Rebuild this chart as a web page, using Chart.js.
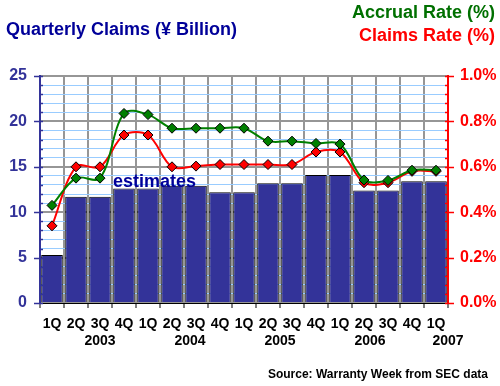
<!DOCTYPE html>
<html><head><meta charset="utf-8">
<style>html,body{margin:0;padding:0;background:#fff;}canvas{display:block;}</style>
<script src="https://cdn.jsdelivr.net/npm/chart.js@4"></script>
</head><body>
<canvas id="c" width="500" height="386"></canvas>
<script>
const quarters = ['1Q','2Q','3Q','4Q','1Q','2Q','3Q','4Q','1Q','2Q','3Q','4Q','1Q','2Q','3Q','4Q','1Q'];
const years = ['2003','2004','2005','2006','2007'];
const yearAnchors = [2, 5.75, 9.5, 13.25, 16.5];
const claims = [5.3, 11.7, 11.7, 12.6, 12.6, 12.9, 12.9, 12.2, 12.2, 13.2, 13.2, 14.1, 14.1, 12.4, 12.4, 13.4, 13.4];
const accrualRate = [0.43, 0.55, 0.55, 0.835, 0.83, 0.77, 0.77, 0.77, 0.77, 0.713, 0.713, 0.703, 0.70, 0.542, 0.54, 0.585, 0.585];
const claimsRate = [0.34, 0.60, 0.60, 0.74, 0.74, 0.60, 0.603, 0.61, 0.61, 0.61, 0.61, 0.665, 0.665, 0.53, 0.53, 0.58, 0.58];
const leftMax = 25, leftMajor = 5;
const rightMax = 1.0, rightMajor = 0.2;

const FONT = 'Liberation Sans, Arial, sans-serif';

const decor = {
  id: 'decor',
  afterDatasetsDraw(chart) {
    const ctx = chart.ctx, y = chart.scales.y, y2 = chart.scales.y2;
    ctx.save();
    ctx.lineWidth = 1.5;
    ctx.strokeStyle = '#333399';
    for (let v = 0; v <= leftMax; v++) {
      const py = Math.round(y.getPixelForValue(v)) + 0.5;
      const major = v % leftMajor === 0;
      ctx.beginPath();
      ctx.moveTo(y.right - (major ? 6 : 0), py);
      ctx.lineTo(y.right + 3, py);
      ctx.stroke();
    }
    ctx.strokeStyle = '#ff0000';
    for (let k = 0; k <= 25; k++) {
      const py = Math.round(y2.getPixelForValue(k * rightMax / 25)) + 0.5;
      const major = k % 5 === 0;
      ctx.beginPath();
      ctx.moveTo(y2.left - 3, py);
      ctx.lineTo(y2.left + (major ? 6 : 0), py);
      ctx.stroke();
    }
    ctx.restore();
  },
  afterDraw(chart) {
    const ctx = chart.ctx, x = chart.scales.x, y = chart.scales.y;
    ctx.save();
    const txt = (s, px, py, color, size, align, base) => {
      ctx.font = 'bold ' + size + 'px ' + FONT;
      ctx.fillStyle = color;
      ctx.textAlign = align;
      ctx.textBaseline = base || 'alphabetic';
      ctx.fillText(s, px, py);
    };
    txt('Quarterly Claims (\u00a5 Billion)', 6, 35, '#000099', 18, 'left');
    txt('Accrual Rate (%)', 495, 18, '#007000', 18, 'right');
    txt('Claims Rate (%)', 495, 41, '#ff0000', 18, 'right');
    // estimates annotation anchored to data coordinates
    const step = x.getPixelForValue(1) - x.getPixelForValue(0);
    const ex = x.getPixelForValue(0) + 4.27 * step;
    txt('estimates', ex, y.getPixelForValue(12.8), '#000099', 18, 'center');
    years.forEach((yr, i) => {
      const px = x.getPixelForValue(0) + yearAnchors[i] * step;
      txt(yr, px, 341, '#000', 14, 'center', 'middle');
    });
    txt('Source: Warranty Week from SEC data', 488, 378, '#000', 12, 'right');
    ctx.restore();
  }
};

new Chart(document.getElementById('c'), {
  type: 'bar',
  data: {
    labels: quarters,
    datasets: [
      { type: 'line', label: 'Accrual Rate (%)', data: accrualRate, yAxisID: 'y2',
        borderColor: '#008000', borderWidth: 2, backgroundColor: '#008000',
        pointStyle: 'rectRot', pointRadius: 5, pointBorderColor: '#000', pointBorderWidth: 1,
        pointBackgroundColor: '#008000', tension: 0.35, order: 0 },
      { type: 'line', label: 'Claims Rate (%)', data: claimsRate, yAxisID: 'y2',
        borderColor: '#ff0000', borderWidth: 2, backgroundColor: '#ff0000',
        pointStyle: 'rectRot', pointRadius: 5, pointBorderColor: '#000', pointBorderWidth: 1,
        pointBackgroundColor: '#ff0000', tension: 0.35, order: 1 },
      { type: 'bar', label: 'Quarterly Claims (\u00a5 Billion)', data: claims, yAxisID: 'y',
        backgroundColor: '#333399', borderColor: '#000', borderWidth: 1,
        barPercentage: 0.9, categoryPercentage: 1, order: 2 }
    ]
  },
  options: {
    responsive: false, animation: false, devicePixelRatio: 1,
    layout: { padding: { top: 76, left: 0, right: 0, bottom: 0 } },
    plugins: { legend: { display: false }, tooltip: { enabled: false }, title: { display: false } },
    scales: {
      x: {
        offset: true,
        grid: { offset: true, color: '#969696', lineWidth: 2, tickColor: '#000', tickLength: 5, tickWidth: 1 },
        border: { color: '#000', width: 1 },
        ticks: { color: '#000', font: { family: FONT, size: 14, weight: 'bold' }, padding: 8, maxRotation: 0, autoSkip: false },
        afterFit(s) { s.height = 83; }
      },
      y: {
        position: 'left', min: 0, max: leftMax,
        ticks: { stepSize: 1, autoSkip: false, maxTicksLimit: 100,
          callback: v => (v % leftMajor === 0 ? String(v) : ''),
          color: '#333399', font: { family: FONT, size: 16, weight: 'bold' }, padding: 13 },
        grid: { drawTicks: false,
          color: c => (c.tick && c.tick.value % leftMajor === 0 ? '#969696' : '#99ccff'),
          lineWidth: c => (c.tick && c.tick.value % leftMajor === 0 ? 2 : 1) },
        border: { color: '#333399', width: 2 },
        afterFit(s) { s.width = 40; }
      },
      y2: {
        position: 'right', min: 0, max: rightMax,
        ticks: { stepSize: rightMajor, autoSkip: false,
          callback: v => v.toFixed(1) + '%',
          color: '#ff0000', font: { family: FONT, size: 16, weight: 'bold' }, padding: 12 },
        grid: { display: false, drawTicks: false },
        border: { color: '#ff0000', width: 2 },
        afterFit(s) { s.width = 52; }
      }
    }
  },
  plugins: [decor]
});
</script>
</body></html>
